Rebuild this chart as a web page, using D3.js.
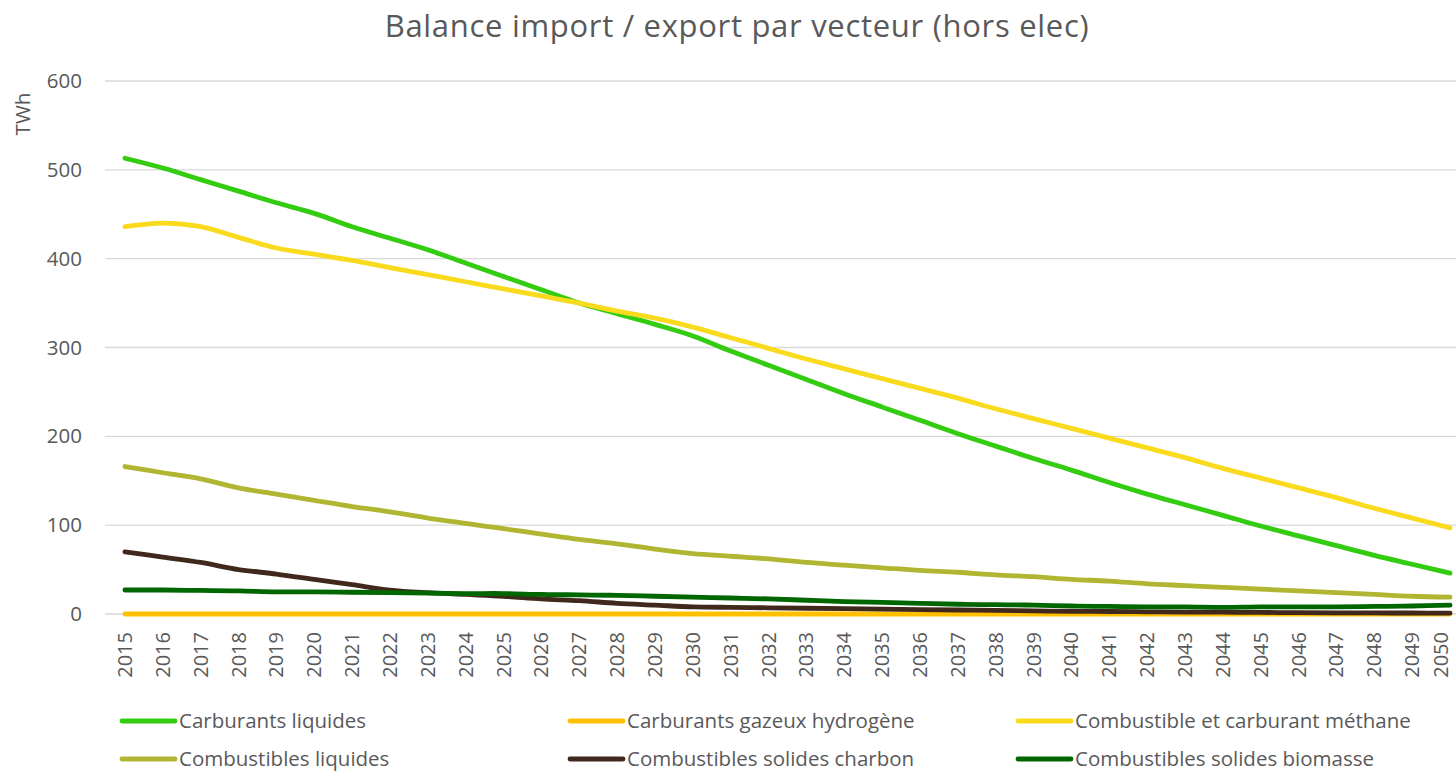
<!DOCTYPE html>
<html>
<head>
<meta charset="utf-8">
<script src="https://cdn.jsdelivr.net/npm/d3@7"></script>
<style>
  body { margin: 0; background: #fff; }
  svg { display: block; font-family: 'Open Sans', sans-serif; }
</style>
</head>
<body>
<svg width="1456" height="773"></svg>
<script>
const years = d3.range(2015, 2051)
const yTicks = [0, 100, 200, 300, 400, 500, 600]

const carburantsLiquides = [513, 502, 489, 476, 463, 451, 436, 423, 410, 395, 380, 365, 350, 338, 326, 313, 296, 280, 264, 248, 233, 218, 203, 189, 175, 162, 148, 135, 123, 111, 99, 88, 77, 66, 56, 46]
const hydrogene = years.map(() => 0)
const methane = [436, 440, 436, 424, 412, 405, 398, 390, 382, 374, 366, 358, 350, 341, 333, 323, 311, 299, 287, 276, 265, 254, 243, 231, 220, 209, 198, 187, 176, 164, 153, 142, 131, 119, 108, 97]
const combustiblesLiquides = [166, 159, 152, 142, 135, 128, 121, 115, 108, 102, 96, 90, 84, 79, 73, 68, 65, 62, 58, 55, 52, 49, 47, 44, 42, 39, 37, 34, 32, 30, 28, 26, 24, 22, 20, 19]
const charbon = [70, 64, 58, 50, 45, 39, 33, 27, 24, 22, 20, 17, 15, 12, 10, 8, 7.5, 7, 6.5, 6, 5.5, 5, 4.5, 4, 3.5, 3, 2.8, 2.5, 2.2, 2, 1.8, 1.5, 1.3, 1.2, 1.1, 1]
const biomasse = [27, 27, 26.5, 26, 25, 25, 24.5, 24, 23.5, 23, 23, 22, 21.5, 21, 20, 19, 18, 17, 15.5, 14, 13, 12, 11, 10.5, 10, 9, 8.5, 8, 8, 7.5, 8, 8, 8, 8.5, 9, 10]

const series = [
  { name: 'Carburants liquides', values: carburantsLiquides, color: '#33cc11' },
  { name: 'Carburants gazeux hydrogène', values: hydrogene, color: '#ffc000' },
  { name: 'Combustible et carburant méthane', values: methane, color: '#f9da1d' },
  { name: 'Combustibles liquides', values: combustiblesLiquides, color: '#b0b532' },
  { name: 'Combustibles solides charbon', values: charbon, color: '#40291c' },
  { name: 'Combustibles solides biomasse', values: biomasse, color: '#006600' }
]

const svg = d3.select('svg')
const textColor = '#595959'

const x = d3.scaleBand().domain(years).range([106, 106 + 37.86 * years.length])
const y = d3.scaleLinear().domain([0, 600]).range([614, 81])

// title
svg.append('text')
  .attr('x', 737).attr('y', 37)
  .attr('text-anchor', 'middle')
  .attr('font-size', 31)
  .attr('letter-spacing', 0.7)
  .attr('fill', textColor)
  .text('Balance import / export par vecteur (hors elec)')

// grid
svg.append('g').selectAll('line').data(yTicks).join('line')
  .attr('x1', 105).attr('x2', 1456)
  .attr('y1', d => y(d)).attr('y2', d => y(d))
  .attr('stroke', '#d9d9d9').attr('stroke-width', 1.3)

// y axis
const yAxis = svg.append('g')
  .attr('transform', 'translate(94,0)')
  .call(d3.axisLeft(y).tickValues(yTicks).tickSize(0).tickPadding(12))
yAxis.select('.domain').remove()
yAxis.selectAll('text').attr('font-size', 20.5).attr('fill', textColor)
  .style('font-family', "'Open Sans', sans-serif")

svg.append('text')
  .attr('transform', 'translate(30,114) rotate(-90)')
  .attr('text-anchor', 'middle')
  .attr('font-size', 20.5)
  .attr('fill', textColor)
  .text('TWh')

// x axis
const xAxis = svg.append('g')
  .attr('transform', 'translate(0,614)')
  .call(d3.axisBottom(x).tickSize(0).tickPadding(0))
xAxis.select('.domain').remove()
xAxis.selectAll('text')
  .attr('font-size', 20)
  .attr('fill', textColor)
  .style('font-family', "'Open Sans', sans-serif")
  .attr('text-anchor', 'end')
  .attr('dy', '0.35em')
  .attr('transform', 'translate(0,18) rotate(-90)')
  .attr('x', 0).attr('y', 0)
// keep the last label inside the window
xAxis.selectAll('.tick')
  .filter(d => d === 2050)
  .select('text')
  .attr('transform', 'translate(-9,18) rotate(-90)')

// lines
const line = d3.line()
  .x((d, i) => x(years[i]) + x.bandwidth() / 2)
  .y(d => y(d))
  .curve(d3.curveCatmullRom.alpha(0.5))

const drawOrder = [1, 0, 2, 3, 4, 5]
svg.append('g').selectAll('path').data(drawOrder.map(i => series[i])).join('path')
  .attr('d', d => line(d.values))
  .attr('fill', 'none')
  .attr('stroke', d => d.color)
  .attr('stroke-width', 4.8)
  .attr('stroke-linecap', 'round')
  .attr('stroke-linejoin', 'round')

// legend
const legendX = [122, 570, 1018]
const legendY = [721, 759]
const legend = svg.append('g').selectAll('g').data(series).join('g')
  .attr('transform', (d, i) => `translate(${legendX[i % 3]},${legendY[Math.floor(i / 3)]})`)
legend.append('line')
  .attr('x1', 0).attr('x2', 53)
  .attr('stroke', d => d.color)
  .attr('stroke-width', 4.8)
  .attr('stroke-linecap', 'round')
legend.append('text')
  .attr('x', 57).attr('dy', '0.35em')
  .attr('font-size', 20.5)
  .attr('fill', textColor)
  .text(d => d.name)
</script>
</body>
</html>
